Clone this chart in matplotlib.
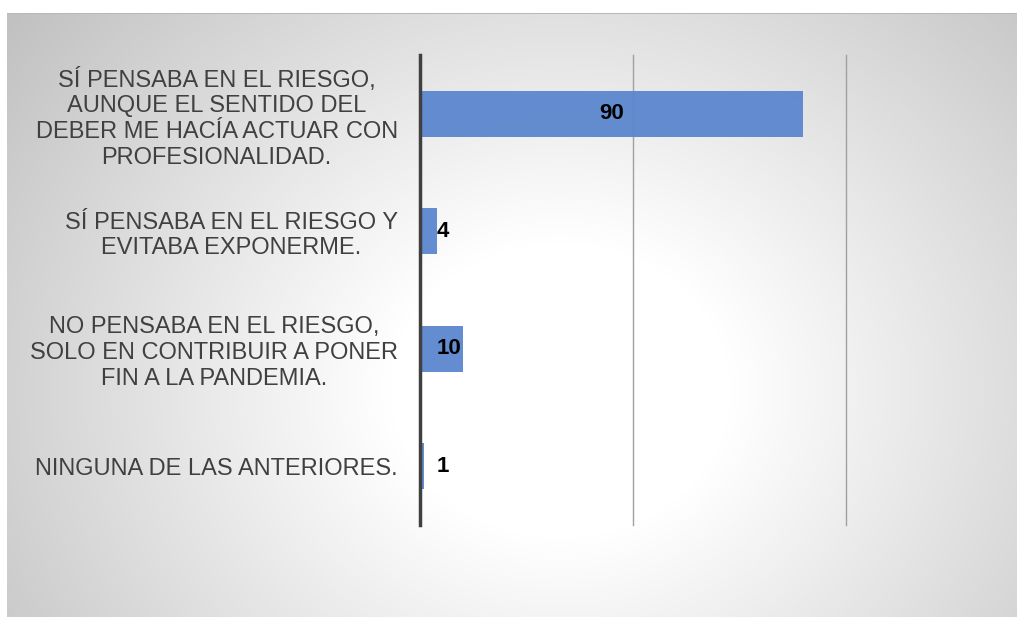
import numpy as np
import matplotlib.pyplot as plt

categorias = [
    "SÍ PENSABA EN EL RIESGO,\nAUNQUE EL SENTIDO DEL\nDEBER ME HACÍA ACTUAR CON\nPROFESIONALIDAD.",
    "SÍ PENSABA EN EL RIESGO Y\nEVITABA EXPONERME.",
    "NO PENSABA EN EL RIESGO,\nSOLO EN CONTRIBUIR A PONER\nFIN A LA PANDEMIA.",
    "NINGUNA DE LAS ANTERIORES.",
]
valores = [90, 4, 10, 1]

plt.rcParams['font.family'] = ['Liberation Sans', 'DejaVu Sans']

fig = plt.figure(figsize=(10.17, 6.17), dpi=100)

# fondo con degradado radial
W, H = 1017, 617
yy, xx = np.mgrid[0:H, 0:W]
r = np.sqrt((xx - 560.0) ** 2 + ((yy - 390.0) * 1.15) ** 2)
t = np.clip((r - 170) / 520.0, 0, 1)
g = 1 - 0.24 * t
img = np.dstack([g, g, g])
img[:13, :, :] = 1.0
img[:, :7, :] = 1.0
img[13, 7:, :] = 0.72
bg = fig.add_axes([0, 0, 1, 1])
bg.imshow(img, aspect='auto', interpolation='bilinear')
bg.axis('off')

ax = fig.add_axes([420 / W, 92 / H, 426 / W, 470 / H])
ax.patch.set_alpha(0)
y = np.arange(len(valores))
ax.barh(y, valores, height=0.39, color='#5B87CE', alpha=0.95, zorder=2)
ax.set_ylim(len(valores) - 0.5, -0.5)
ax.set_xlim(0, 100)
ax.set_xticks([0, 50, 100])
ax.set_xticklabels([])
ax.tick_params(axis='x', length=0)
for gx in [50, 100]:
    ax.axvline(gx, color='#a0a0a0', linewidth=1, zorder=1, clip_on=False)
for s in ['top', 'right', 'bottom']:
    ax.spines[s].set_visible(False)
ax.spines['left'].set_linewidth(2.5)
ax.spines['left'].set_color('#404040')
ax.spines['left'].set_zorder(3)

ax.set_yticks(y)
ax.set_yticklabels(categorias, fontsize=17, color='#404040', multialignment='center',
                   linespacing=1.22)
ax.tick_params(axis='y', length=0, pad=16)

for i, v in enumerate(valores):
    if v > 50:
        ax.text(v / 2, i, str(v), ha='center', va='center', fontsize=16, fontweight='bold', zorder=4)
    else:
        ax.annotate(str(v), xy=(0, i), xytext=(17, 0), textcoords='offset pixels',
                    ha='left', va='center', fontsize=16, fontweight='bold', zorder=4)

fig.savefig('out.png', dpi=100)
